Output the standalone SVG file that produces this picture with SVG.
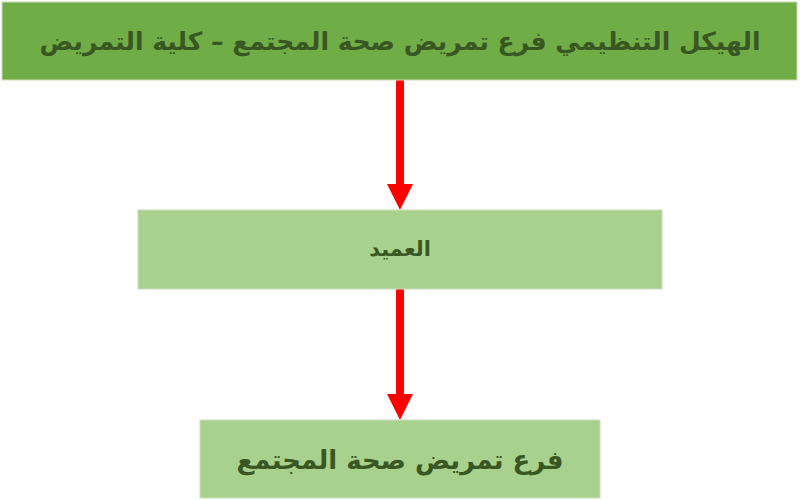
<svg xmlns="http://www.w3.org/2000/svg" width="800" height="500" viewBox="0 0 800 500">
<style>
.t{font-family:"DejaVu Sans","Noto Sans",sans-serif;font-weight:bold;fill:#385723;text-anchor:middle;dominant-baseline:central}
.box{stroke:#c9dcbc;stroke-width:1}
.shaft{stroke:#ff0000;stroke-width:8;stroke-linecap:round}
.head{fill:#ff0000}
</style>
<rect width="800" height="500" fill="#ffffff"/>
<g id="connectors">
<line class="shaft" x1="400" y1="82" x2="400" y2="186"/>
<polygon class="head" points="387,184 413,184 400,210"/>
<line class="shaft" x1="400" y1="291" x2="400" y2="396"/>
<polygon class="head" points="387,394 413,394 400,420"/>
</g>
<g id="title">
<rect class="box" x="2" y="2" width="795" height="78" fill="#70ad47"/>
<text class="t" x="400" y="41" font-size="25" direction="rtl">الهيكل التنظيمي فرع تمريض صحة المجتمع – كلية التمريض</text>
</g>
<g id="dean">
<rect class="box" x="138" y="210" width="524" height="79" fill="#a9d18e"/>
<text class="t" x="400" y="249" font-size="21" direction="rtl">العميد</text>
</g>
<g id="branch">
<rect class="box" x="200" y="420" width="400" height="78" fill="#a9d18e"/>
<text class="t" x="400" y="460" font-size="26" direction="rtl">فرع تمريض صحة المجتمع</text>
</g>
</svg>
